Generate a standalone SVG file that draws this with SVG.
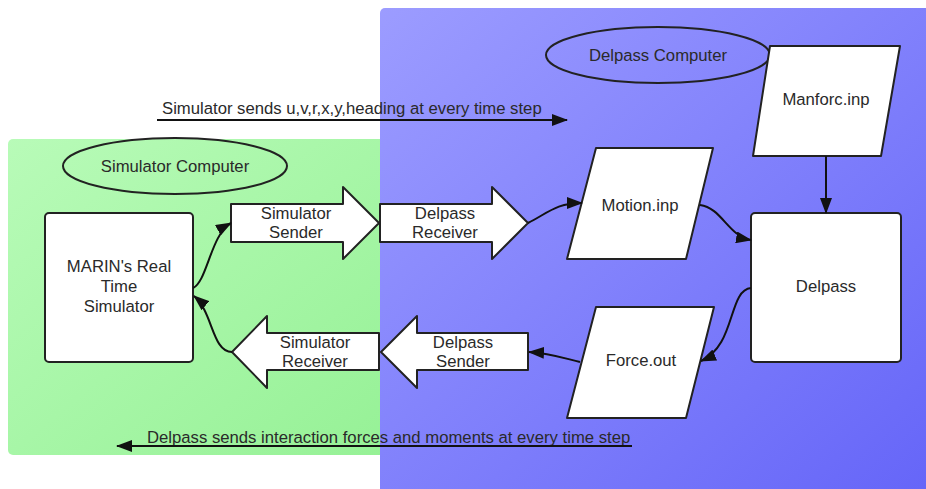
<svg xmlns="http://www.w3.org/2000/svg" width="926" height="489" viewBox="0 0 926 489">
<defs>
<linearGradient id="gGreen" x1="0" y1="0" x2="1" y2="1">
<stop offset="0" stop-color="#b8fbb8"/>
<stop offset="1" stop-color="#96f196"/>
</linearGradient>
<linearGradient id="gBlue" x1="0" y1="0" x2="1" y2="1">
<stop offset="0" stop-color="#9c9cff"/>
<stop offset="1" stop-color="#6464f8"/>
</linearGradient>
<marker id="ah" markerUnits="userSpaceOnUse" markerWidth="16" markerHeight="12" viewBox="0 0 16 12" refX="15" refY="6" orient="auto">
<path d="M0,0 L16,6 L0,12 Z" fill="#111"/>
</marker>
<style>
.shape{fill:#fff;stroke:#222;stroke-width:2;stroke-linejoin:round}
.ell{fill:none;stroke:#222;stroke-width:2}
.t{font-family:"Liberation Sans",Arial,sans-serif;font-size:16.7px;fill:#2a2a2a;text-anchor:middle}
.tl{font-family:"Liberation Sans",Arial,sans-serif;font-size:16.7px;fill:#2a2a2a}
.c{fill:none;stroke:#111;stroke-width:2}
</style>
</defs>
<g id="zones">
<rect x="8" y="139" width="380" height="316" rx="5" fill="url(#gGreen)"/>
<rect x="380" y="8" width="560" height="500" rx="5" fill="url(#gBlue)"/>
</g>
<g id="simulator-computer">
<ellipse class="ell" cx="175" cy="166" rx="112" ry="28"/>
<text class="t" x="175" y="172">Simulator Computer</text>
</g>
<g id="delpass-computer">
<ellipse class="ell" cx="658" cy="55" rx="112" ry="28"/>
<text class="t" x="658" y="61">Delpass Computer</text>
</g>
<g id="marin">
<rect class="shape" x="45" y="213" width="148" height="149" rx="4"/>
<text class="t" x="119" y="272">MARIN's Real</text>
<text class="t" x="119" y="292">Time</text>
<text class="t" x="119" y="312">Simulator</text>
</g>
<g id="simulator-sender">
<path class="shape" d="M231,204 L343,204 L343,187 L379,223 L343,259 L343,242 L231,242 Z"/>
<text class="t" x="296" y="219">Simulator</text>
<text class="t" x="296" y="238">Sender</text>
</g>
<g id="delpass-receiver">
<path class="shape" d="M380,204 L492,204 L492,187 L528,223 L492,259 L492,242 L380,242 Z"/>
<text class="t" x="445" y="219">Delpass</text>
<text class="t" x="445" y="238">Receiver</text>
</g>
<g id="simulator-receiver">
<path class="shape" d="M379,333 L267,333 L267,316 L232,352 L267,388 L267,370 L379,370 Z"/>
<text class="t" x="315" y="348">Simulator</text>
<text class="t" x="315" y="367">Receiver</text>
</g>
<g id="delpass-sender">
<path class="shape" d="M528,333 L417,333 L417,316 L381,352 L417,388 L417,370 L528,370 Z"/>
<text class="t" x="463" y="348">Delpass</text>
<text class="t" x="463" y="367">Sender</text>
</g>
<g id="motion-inp">
<path class="shape" d="M596,148 L713,148 L686,259 L567,259 Z"/>
<text class="t" x="640" y="211">Motion.inp</text>
</g>
<g id="manforc-inp">
<path class="shape" d="M770,46 L900,46 L881,156 L753,156 Z"/>
<text class="t" x="826" y="105">Manforc.inp</text>
</g>
<g id="delpass">
<rect class="shape" x="751" y="213" width="150" height="149" rx="4"/>
<text class="t" x="826" y="292">Delpass</text>
</g>
<g id="force-out">
<path class="shape" d="M596,307 L714,307 L686,418 L567,418 Z"/>
<text class="t" x="641" y="366">Force.out</text>
</g>
<g id="labels">
<text class="tl" x="162" y="114">Simulator sends u,v,r,x,y,heading at every time step</text>
<text class="tl" x="147" y="443">Delpass sends interaction forces and moments at every time step</text>
</g>
<g id="connectors">
<path class="c" d="M157,120 L567,120" marker-end="url(#ah)"/>
<path class="c" d="M632,446 L117,446" marker-end="url(#ah)"/>
<path class="c" d="M193,288 C207,282 211,234 231,223" marker-end="url(#ah)"/>
<path class="c" d="M232,352 C212,352 213,312 194,296" marker-end="url(#ah)"/>
<path class="c" d="M528,223 C548,213 556,203 582,203" marker-end="url(#ah)"/>
<path class="c" d="M700,205 C722,208 728,236 751,240" marker-end="url(#ah)"/>
<path class="c" d="M826,156 L826,213" marker-end="url(#ah)"/>
<path class="c" d="M751,288 C728,290 736,346 701,361" marker-end="url(#ah)"/>
<path class="c" d="M580,362 C560,357 548,353 529,352" marker-end="url(#ah)"/>
</g>
</svg>
